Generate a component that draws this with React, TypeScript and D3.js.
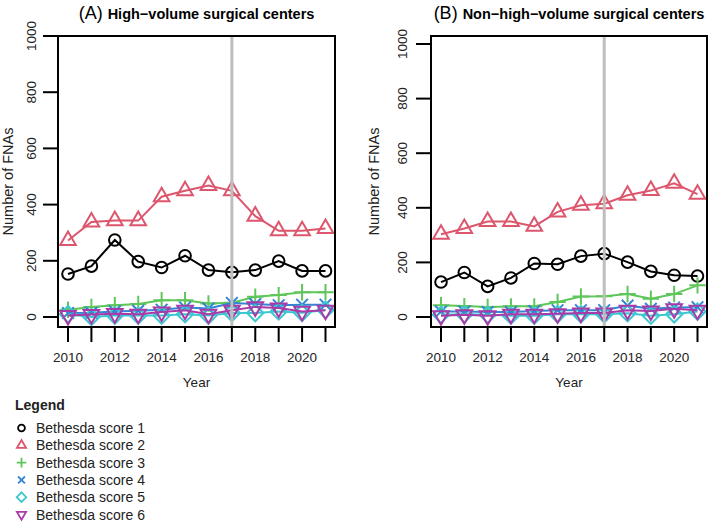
import { useEffect, useRef } from "react";
import * as d3 from "d3";

const years = [2010, 2011, 2012, 2013, 2014, 2015, 2016, 2017, 2018, 2019, 2020, 2021];
const yearTicks = [2010, 2012, 2014, 2016, 2018, 2020];
const countTicks = [0, 200, 400, 600, 800, 1000];
const cutoffYear = 2017;

const seriesNames = [
  "Bethesda score 1",
  "Bethesda score 2",
  "Bethesda score 3",
  "Bethesda score 4",
  "Bethesda score 5",
  "Bethesda score 6",
];
const seriesColors = ["#000000", "#DC566D", "#5EC65A", "#3385D6", "#3CC8D0", "#A93BA8"];
const seriesShapes = ["circle", "triangle", "plus", "cross", "diamond", "triangleDown"];

// (A) High-volume surgical centers
const highScore1 = [153, 181, 274, 197, 176, 218, 167, 159, 167, 199, 164, 164];
const highScore2 = [272, 338, 343, 343, 428, 449, 468, 449, 359, 307, 307, 315];
const highScore3 = [26, 36, 42, 46, 60, 60, 48, 51, 72, 78, 88, 88];
const highScore4 = [14, 15, 20, 22, 26, 34, 30, 50, 46, 42, 44, 44];
const highScore5 = [10, 0, 5, 5, 5, 10, 5, 14, 14, 20, 15, 25];
const highScore6 = [5, 9, 12, 10, 18, 24, 10, 24, 36, 32, 20, 24];

// (B) Non-high-volume surgical centers
const nonScore1 = [128, 163, 112, 143, 196, 193, 223, 232, 201, 167, 153, 150];
const nonScore2 = [303, 324, 350, 350, 332, 385, 409, 415, 446, 463, 490, 450];
const nonScore3 = [43, 40, 37, 39, 39, 55, 75, 76, 84, 67, 84, 116];
const nonScore4 = [20, 20, 18, 18, 22, 25, 25, 25, 42, 30, 35, 36];
const nonScore5 = [8, 10, 8, 5, 5, 10, 10, 10, 14, 5, 10, 20];
const nonScore6 = [5, 8, 5, 10, 10, 12, 15, 15, 25, 22, 30, 25];

const panels = [
  {
    tag: "(A)",
    title: "High\u2212volume surgical centers",
    series: [highScore1, highScore2, highScore3, highScore4, highScore5, highScore6],
    left: 58, right: 335, yTop: 36, tickLabelOff: 22, axisTitleOff: 45,
  },
  {
    tag: "(B)",
    title: "Non\u2212high\u2212volume surgical centers",
    series: [nonScore1, nonScore2, nonScore3, nonScore4, nonScore5, nonScore6],
    left: 431, right: 707, yTop: 44, tickLabelOff: 24, axisTitleOff: 52,
  },
];

// R-style open symbols, r = base radius
function symbolPath(shape: string, r: number) {
  const p = d3.path();
  if (shape === "circle") {
    p.arc(0, 0, r, 0, Math.PI * 2);
  } else if (shape === "triangle" || shape === "triangleDown") {
    const s = shape === "triangle" ? -1 : 1;
    const t0 = Math.sqrt((4 * Math.PI) / (3 * Math.sqrt(3)));
    const h = t0 * r, xc = (t0 * Math.sqrt(3) / 2) * r, yc = (t0 / 2) * r;
    p.moveTo(0, s * h);
    p.lineTo(xc, -s * yc);
    p.lineTo(-xc, -s * yc);
    p.closePath();
  } else if (shape === "plus") {
    const a = Math.SQRT2 * r;
    p.moveTo(-a, 0); p.lineTo(a, 0);
    p.moveTo(0, -a); p.lineTo(0, a);
  } else if (shape === "cross") {
    p.moveTo(-r, -r); p.lineTo(r, r);
    p.moveTo(-r, r); p.lineTo(r, -r);
  } else if (shape === "diamond") {
    const a = Math.SQRT2 * r;
    p.moveTo(0, -a); p.lineTo(a, 0); p.lineTo(0, a); p.lineTo(-a, 0);
    p.closePath();
  }
  return p.toString();
}

const FONT = "Liberation Sans, Arial, Helvetica, sans-serif";

const App = () => {
  const svgRef = useRef<SVGSVGElement>(null);

  useEffect(() => {
    const svg = d3.select(svgRef.current);
    svg.selectAll("*").remove();

    const boxTop = 36;
    const boxBottom = 327;

    svg.append("rect").attr("width", 709).attr("height", 524).attr("fill", "#ffffff");

    panels.forEach((panel) => {
      const g = svg.append("g");

      const x = d3
        .scaleLinear()
        .domain([2010, 2021])
        .range([panel.left + 10, panel.right - 9.5]);
      const y = d3.scaleLinear().domain([0, 1000]).range([317, panel.yTop]);
      const cx = (panel.left + panel.right) / 2;

      // title: regular tag + bold text, centered together
      const title = g
        .append("text")
        .attr("x", cx)
        .attr("y", 18.5)
        .attr("text-anchor", "middle")
        .attr("font-family", FONT)
        .attr("fill", "#000");
      title.append("tspan").attr("font-size", 18).text(panel.tag + " ");
      title.append("tspan").attr("font-size", 14.5).attr("font-weight", "bold").text(panel.title);

      // series lines + markers
      panel.series.forEach((vals, si) => {
        const line = d3
          .line<number>()
          .x((_, i) => x(years[i]))
          .y((d) => y(d));
        g.append("path")
          .attr("d", line(vals))
          .attr("fill", "none")
          .attr("stroke", seriesColors[si])
          .attr("stroke-width", 2);
        g.selectAll(null)
          .data(vals)
          .enter()
          .append("path")
          .attr("transform", (d, i) => `translate(${x(years[i])},${y(d)})`)
          .attr("d", symbolPath(seriesShapes[si], 5.8))
          .attr("fill", "none")
          .attr("stroke", seriesColors[si])
          .attr("stroke-width", 2);
      });

      // vertical reference line
      g.append("line")
        .attr("x1", x(cutoffYear))
        .attr("x2", x(cutoffYear))
        .attr("y1", boxTop)
        .attr("y2", boxBottom)
        .attr("stroke", "#BEBEBE")
        .attr("stroke-width", 3);

      // box
      g.append("rect")
        .attr("x", panel.left)
        .attr("y", boxTop)
        .attr("width", panel.right - panel.left)
        .attr("height", boxBottom - boxTop)
        .attr("fill", "none")
        .attr("stroke", "#000")
        .attr("stroke-width", 2);

      // x ticks
      years.forEach((yr) => {
        g.append("line")
          .attr("x1", x(yr))
          .attr("x2", x(yr))
          .attr("y1", boxBottom + 1)
          .attr("y2", 342)
          .attr("stroke", "#000")
          .attr("stroke-width", 2);
      });
      yearTicks.forEach((yr) => {
        g.append("text")
          .attr("x", x(yr))
          .attr("y", 362)
          .attr("text-anchor", "middle")
          .attr("font-family", FONT)
          .attr("font-size", 13.5)
          .attr("fill", "#222")
          .text(yr);
      });
      g.append("text")
        .attr("x", cx)
        .attr("y", 387)
        .attr("text-anchor", "middle")
        .attr("font-family", FONT)
        .attr("font-size", 13.5)
        .attr("fill", "#222")
        .text("Year");

      // y ticks
      countTicks.forEach((v) => {
        g.append("line")
          .attr("x1", panel.left - 15)
          .attr("x2", panel.left - 1)
          .attr("y1", y(v))
          .attr("y2", y(v))
          .attr("stroke", "#000")
          .attr("stroke-width", 2);
        g.append("text")
          .attr("transform", `translate(${panel.left - panel.tickLabelOff},${y(v)}) rotate(-90)`)
          .attr("text-anchor", "middle")
          .attr("font-family", FONT)
          .attr("font-size", 13.5)
          .attr("fill", "#222")
          .text(v);
      });
      g.append("text")
        .attr("transform", `translate(${panel.left - panel.axisTitleOff},${(boxTop + boxBottom) / 2}) rotate(-90)`)
        .attr("text-anchor", "middle")
        .attr("font-family", FONT)
        .attr("font-size", 14.5)
        .attr("fill", "#222")
        .text("Number of FNAs");
    });

    // legend
    const lg = svg.append("g");
    lg.append("text")
      .attr("x", 15)
      .attr("y", 410)
      .attr("font-family", FONT)
      .attr("font-size", 14)
      .attr("font-weight", "bold")
      .attr("fill", "#222")
      .text("Legend");
    seriesNames.forEach((name, i) => {
      const yy = 428 + i * 17.3;
      lg.append("path")
        .attr("transform", `translate(21.5,${yy})`)
        .attr("d", symbolPath(seriesShapes[i], 3.4))
        .attr("fill", "none")
        .attr("stroke", seriesColors[i])
        .attr("stroke-width", 1.8);
      lg.append("text")
        .attr("x", 36)
        .attr("y", yy + 5)
        .attr("font-family", FONT)
        .attr("font-size", 14)
        .attr("fill", "#222")
        .text(name);
    });
  }, []);

  return (
    <svg
      ref={svgRef}
      width={709}
      height={524}
      style={{ position: "absolute", left: 0, top: 0 }}
    ></svg>
  );
};

export default App;
